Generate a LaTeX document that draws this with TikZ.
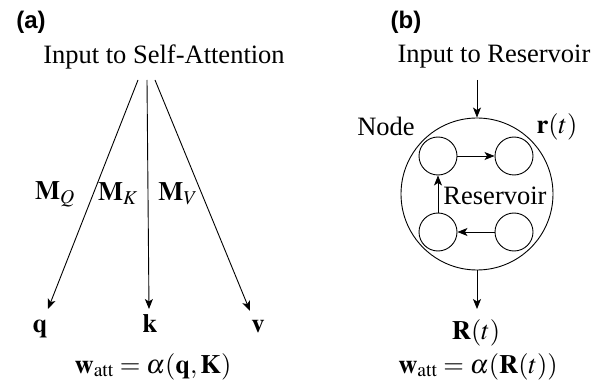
\documentclass[tikz,border=0pt]{standalone}
\usepackage{mathptmx}
\usepackage[no-math]{fontspec}
\setmainfont{Liberation Serif}
\newfontfamily\labfont{Liberation Sans}
\usetikzlibrary{arrows.meta}
\begin{document}
\begin{tikzpicture}[x=1pt,y=-1pt,
  txt/.style={font=\fontsize{26.5}{32}\selectfont, inner sep=0pt},
  panel/.style={font=\labfont\bfseries\fontsize{24}{28}\selectfont, inner sep=0pt},
  conn/.style={line width=0.9pt, -{Stealth[length=10pt,width=8pt,inset=2.5pt]}},
  plain/.style={line width=0.9pt},
  bigc/.style={circle, draw, line width=0.9pt, minimum size=152pt, inner sep=0pt},
  smallc/.style={circle, draw, line width=0.9pt, minimum size=38pt, inner sep=0pt}]
\useasboundingbox (0,0) rectangle (611,385);
% panel (a)
\node[panel] (la) at (31,22) {(a)};
\node[txt] (ina) at (164,57) {Input to Self-Attention};
\coordinate (s1) at (138,80);
\coordinate (s2) at (147,80);
\coordinate (s3) at (155,80);
\coordinate (tq) at (48,309);
\coordinate (tk) at (149,309);
\coordinate (tv) at (250,311);
\draw[conn] (s1) -- (tq);
\draw[conn] (s2) -- (tk);
\draw[conn] (s3) -- (tv);
\node[txt] (mq) at (55,194) {$\mathbf{M}_Q$};
\node[txt] (mk) at (118,194) {$\mathbf{M}_K$};
\node[txt] (mv) at (178,194) {$\mathbf{M}_V$};
\node[txt,anchor=base] (q) at (40,332) {$\mathbf{q}$};
\node[txt,anchor=base] (k) at (150,332) {$\mathbf{k}$};
\node[txt,anchor=base] (v) at (258,332) {$\mathbf{v}$};
\node[txt,anchor=base] (wa) at (153,373) {$\mathbf{w}_{\mathrm{att}}=\alpha(\mathbf{q},\mathbf{K})$};
% panel (b)
\node[panel] (lb) at (406,22) {(b)};
\node[txt] (inb) at (494,57) {Input to Reservoir};
\coordinate (sb) at (477,80);
\node[bigc] (res) at (477,194) {};
\draw[conn] (sb) -- (res.north);
\node[txt] (node) at (386,126) {Node};
\node[txt] (rt) at (557,127) {$\mathbf{r}(t)$};
\node[smallc] (c1) at (438,156) {};
\node[smallc] (c2) at (514,156) {};
\node[smallc] (c3) at (438,232) {};
\node[smallc] (c4) at (514,232) {};
\draw[conn] (c1) -- (c2);
\draw[conn] (c4) -- (c3);
\draw[conn] (c3) -- (c1);
\node[txt] (rl) at (495,196) {Reservoir};
\coordinate (eb) at (477,309);
\draw[conn] (res.south) -- (eb);
\node[txt,anchor=base] (Rt) at (476,339) {$\mathbf{R}(t)$};
\node[txt,anchor=base] (wb) at (478,373) {$\mathbf{w}_{\mathrm{att}}=\alpha(\mathbf{R}(t))$};
\end{tikzpicture}
\end{document}
